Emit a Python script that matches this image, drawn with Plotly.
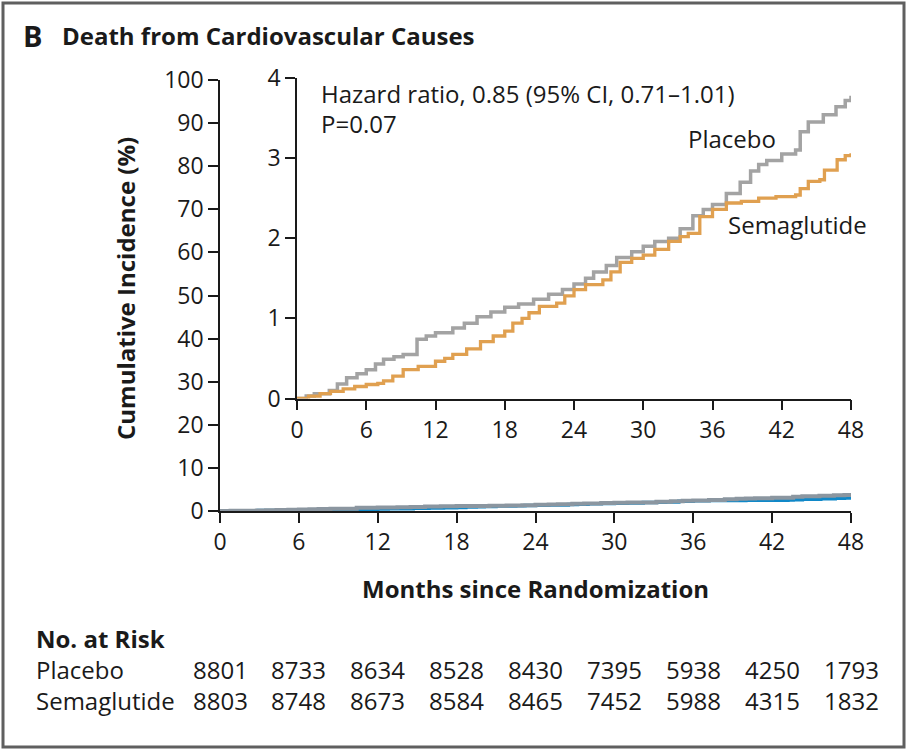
import plotly.graph_objects as go

W, H = 910, 752
FONT = "Open Sans"
INK = "#1a1a1a"

# ---------------- data ----------------
placebo_months = [0, 0.8, 1.5, 2.8, 3.5, 4.3, 5.2, 6.0, 6.8, 7.5, 8.4, 9.2, 10.4, 11.2, 12.0,
                  13.5, 14.5, 15.6, 16.8, 18.0, 19.2, 20.5, 21.8, 23.0, 24.0, 25.0, 25.7, 26.8,
                  27.7, 29.0, 30.0, 31.0, 32.2, 33.2, 34.3, 35.2, 36.0, 37.2, 38.4, 39.3, 40.0,
                  40.7, 42.0, 43.2, 43.6, 44.3, 45.6, 46.7, 47.5, 48.0]
placebo_pct = [0, 0.03, 0.06, 0.10, 0.18, 0.26, 0.31, 0.36, 0.43, 0.49, 0.52, 0.55, 0.74, 0.78,
               0.82, 0.88, 0.94, 1.02, 1.08, 1.14, 1.18, 1.24, 1.30, 1.36, 1.43, 1.50, 1.58, 1.66,
               1.76, 1.83, 1.90, 1.96, 2.00, 2.12, 2.28, 2.36, 2.42, 2.56, 2.70, 2.84, 2.92, 2.97,
               3.05, 3.10, 3.33, 3.45, 3.54, 3.64, 3.72, 3.78]

sema_months = [0, 1.0, 2.0, 2.9, 4.0, 5.0, 6.0, 7.0, 7.5, 8.3, 9.2, 10.5, 12.0, 12.8, 13.5, 14.7,
               15.9, 17.0, 18.0, 18.7, 19.5, 20.1, 21.0, 22.5, 23.2, 24.0, 25.0, 26.5, 27.2, 28.0,
               29.0, 30.0, 31.0, 32.2, 33.2, 33.9, 34.9, 36.0, 37.2, 38.5, 40.0, 41.5, 43.2, 43.6,
               44.3, 45.3, 45.7, 46.8, 47.5, 48.0]
sema_pct = [0, 0.03, 0.06, 0.09, 0.12, 0.15, 0.175, 0.19, 0.22, 0.28, 0.36, 0.40, 0.465, 0.50,
            0.55, 0.62, 0.71, 0.78, 0.84, 0.94, 1.00, 1.07, 1.15, 1.19, 1.28, 1.36, 1.42, 1.48,
            1.58, 1.70, 1.75, 1.79, 1.86, 1.96, 2.02, 2.06, 2.27, 2.36, 2.44, 2.46, 2.50, 2.52,
            2.54, 2.62, 2.71, 2.73, 2.85, 2.98, 3.03, 3.06]

risk_months = [0, 6, 12, 18, 24, 30, 36, 42, 48]
risk_placebo = [8801, 8733, 8634, 8528, 8430, 7395, 5938, 4250, 1793]
risk_sema = [8803, 8748, 8673, 8584, 8465, 7452, 5988, 4315, 1832]

x_ticks = [0, 6, 12, 18, 24, 30, 36, 42, 48]
main_y_ticks = [0, 10, 20, 30, 40, 50, 60, 70, 80, 90, 100]
inset_y_ticks = [0, 1, 2, 3, 4]

panel_letter = "B"
title_text = "Death from Cardiovascular Causes"
hr_text = "Hazard ratio, 0.85 (95% CI, 0.71–1.01)"
p_text = "P=0.07"

FS = 24
TICK_FS = 23


def px(p):
    return p / W


def py(p):
    return 1 - p / H


fig = go.Figure()

# main panel
fig.add_trace(go.Scatter(x=sema_months, y=sema_pct, mode="lines", line_shape="hv",
                         line=dict(color="#1088c8", width=3.5), xaxis="x", yaxis="y",
                         showlegend=False, hoverinfo="skip"))
fig.add_trace(go.Scatter(x=placebo_months, y=placebo_pct, mode="lines", line_shape="hv",
                         line=dict(color="#8b96a0", width=4), xaxis="x", yaxis="y",
                         showlegend=False, hoverinfo="skip"))
# inset panel
fig.add_trace(go.Scatter(x=placebo_months, y=placebo_pct, mode="lines", line_shape="hv",
                         line=dict(color="#a3a3a3", width=3.5), xaxis="x2", yaxis="y2",
                         showlegend=False, hoverinfo="skip"))
fig.add_trace(go.Scatter(x=sema_months, y=sema_pct, mode="lines", line_shape="hv",
                         line=dict(color="#e0a050", width=3.3), xaxis="x2", yaxis="y2",
                         showlegend=False, hoverinfo="skip"))

axis_common = dict(showgrid=False, zeroline=False, showline=True, linecolor=INK, linewidth=1.6,
                   ticks="outside", ticklen=10, tickwidth=1.6, tickcolor=INK, automargin=False,
                   tickfont=dict(family=FONT, size=TICK_FS, color=INK))

fig.update_layout(
    width=W, height=H,
    margin=dict(l=0, r=0, t=0, b=0, pad=0),
    paper_bgcolor="white", plot_bgcolor="rgba(0,0,0,0)",
    xaxis=dict(domain=[px(220), px(851)], range=[0, 48], tickvals=x_ticks,
               anchor="y", **axis_common),
    yaxis=dict(domain=[py(511), py(80)], range=[0, 100], tickvals=main_y_ticks,
               anchor="x", **axis_common),
    xaxis2=dict(domain=[px(297), px(851)], range=[0, 48], tickvals=x_ticks,
                anchor="y2", **axis_common),
    yaxis2=dict(domain=[py(398.5), py(78)], range=[0, 4], tickvals=inset_y_ticks,
                anchor="x2", **axis_common),
)


def note(text, x, y, xanchor="left", size=FS, xref="paper", **kw):
    return dict(text=text, x=x, y=y, xref=xref, yref="paper", xanchor=xanchor,
                yanchor="middle", showarrow=False,
                font=dict(family=FONT, size=size, color=INK), **kw)


ann = []
ann.append(note("<b>" + panel_letter + "</b>", px(21), py(35), size=29))
ann.append(note("<b>" + title_text + "</b>", px(60), py(36), size=24))
ann.append(note("<b>Cumulative Incidence (%)</b>", px(125), py(289), xanchor="center",
                textangle=-90, size=24))
ann.append(note("<b>Months since Randomization</b>", px(535), py(588), xanchor="center",
                size=24))
ann.append(note(hr_text, px(319), py(93)))
ann.append(note(p_text, px(319), py(123)))
ann.append(note("Placebo", px(732), py(138), xanchor="center"))
ann.append(note("Semaglutide", px(726), py(225)))

# risk table
ann.append(note("<b>No. at Risk</b>", px(34), py(638)))
ann.append(note("Placebo", px(34), py(669)))
ann.append(note("Semaglutide", px(34), py(700)))
for m, a, b in zip(risk_months, risk_placebo, risk_sema):
    ann.append(note(str(a), m, py(669), xanchor="center", xref="x"))
    ann.append(note(str(b), m, py(700), xanchor="center", xref="x"))

fig.update_layout(annotations=ann)

fig.add_shape(type="rect", xref="paper", yref="paper", x0=px(3), x1=px(904),
              y0=py(747), y1=py(3), line=dict(color="#5f5f5f", width=3),
              fillcolor="rgba(0,0,0,0)", layer="below")

fig.write_html("out.html",
               config={"displayModeBar": False},
               post_script="document.body.style.margin='0';document.body.style.overflow='hidden';")
